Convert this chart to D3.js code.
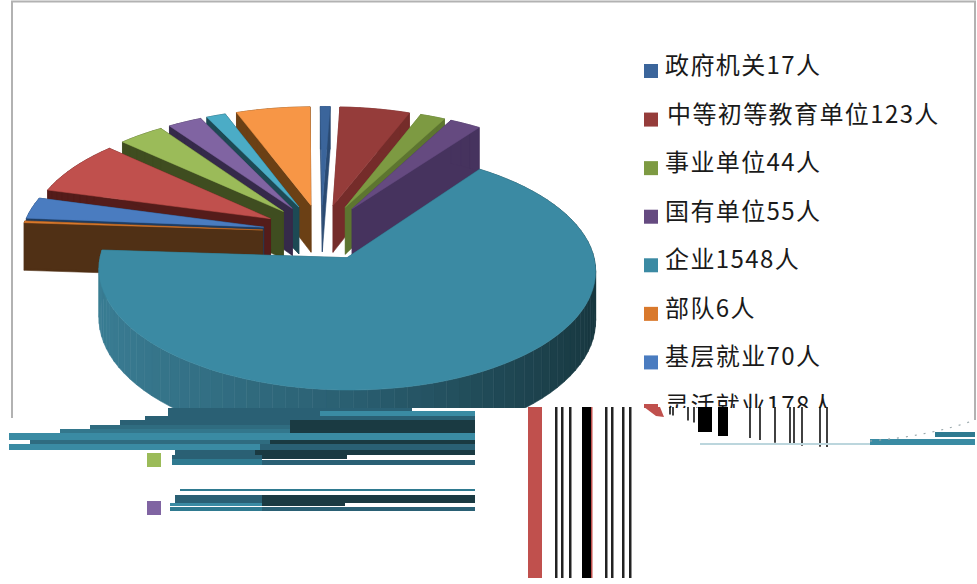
<!DOCTYPE html>
<html>
<head>
<meta charset="utf-8">
<script src="https://cdn.jsdelivr.net/npm/d3@7"></script>
<style>
  html, body { margin: 0; background: #fff; }
  svg { display: block; }
  text { font-family: "Noto Sans CJK SC", sans-serif; }
</style>
</head>
<body>
<svg id="chart" width="977" height="584"></svg>
<script>
// last four names cannot be read in the picture, their values are estimated
const categories = ["政府机关", "中等初等教育单位", "事业单位", "国有单位", "企业", "部队", "基层就业", "灵活就业", "", "", "", ""];
const values = [17, 123, 44, 55, 1548, 6, 70, 178, 81, 60, 34, 130];
const unit = "人";
const topColors = ["#3b659b", "#953c3a", "#7d9a42", "#654a80", "#3b8aa3", "#d9792c", "#4a7cc0", "#c0504d", "#9bbb59", "#8064a2", "#4bacc6", "#f79646"];
const sideColors = ["#2a4a72", "#752c2a", "#5d7530", "#46335e", "#27606f", "#503015", "#1f3c60", "#541c1a", "#3f4d20", "#352a4a", "#1d4a55", "#6b4015"];

const W = 977, H = 584;
const svg = d3.select("#chart");

// pie geometry, fitted to the picture
const cx = 321.5, cy = 232, R = 241.5, explode = 59, depth = 48;
const tilt = 0.47, camera = 2400;
const rotation = -0.5 * Math.PI / 180;

const project = (X, Y, z) => {
  const s = camera / (camera - Y);
  return [cx + X * s, cy + Y * tilt * s + z * s];
};

const arcs = d3.pie().sort(null).startAngle(rotation).endAngle(rotation + 2 * Math.PI)(values);

const polygon = d3.line();
const defs = svg.append("defs");
defs.append("clipPath").attr("id", "pie-clip")
  .append("rect").attr("x", 0).attr("y", 0).attr("width", W).attr("height", 408);

// frame
svg.append("path")
  .attr("d", "M12,418V1.5H975V420")
  .attr("fill", "none").attr("stroke", "#b2b2b2").attr("stroke-width", 2);

const pieG = svg.append("g").attr("clip-path", "url(#pie-clip)");
const wallShade = d3.scaleLinear().domain([-1, 0, 1]).range(["#3a7d94", "#2a5f71", "#17363e"]);

const slices = arcs.map((d, i) => {
  const mid = (d.startAngle + d.endAngle) / 2;
  const ox = explode * Math.sin(mid), oy = -explode * Math.cos(mid);
  const rim = d3.range(0, 1.0001, 1 / Math.max(2, Math.ceil((d.endAngle - d.startAngle) / 0.05)))
    .map((t) => d.startAngle + t * (d.endAngle - d.startAngle));
  const at = (a, r, z) => project(ox + r * Math.sin(a), oy - r * Math.cos(a), z);
  return { i, d, rim, at, order: oy - (R / 2) * Math.cos(mid) };
}).sort((a, b) => a.order - b.order);

slices.forEach(({ i, d, rim, at }) => {
  const g = pieG.append("g").attr("class", "slice");
  const wall = (pts, c) =>
    g.append("path").attr("d", polygon(pts) + "Z").attr("fill", c).attr("stroke", c).attr("stroke-width", 0.6);
  wall([at(0, 0, 0), at(d.startAngle, R, 0), at(d.startAngle, R, depth), at(0, 0, depth)], sideColors[i]);
  wall([at(0, 0, 0), at(d.endAngle, R, 0), at(d.endAngle, R, depth), at(0, 0, depth)], sideColors[i]);
  d3.pairs(rim).forEach(([a, b]) => {
    const c = i === 4 ? wallShade(Math.sin((a + b) / 2)) : sideColors[i];
    wall([at(a, R, 0), at(b, R, 0), at(b, R, depth), at(a, R, depth)], c);
  });
  const top = [at(0, 0, 0)].concat(rim.map((a) => at(a, R, 0)));
  g.append("path").attr("d", polygon(top) + "Z").attr("fill", topColors[i]).attr("stroke", topColors[i]).attr("stroke-width", 0.5);
});

// legend, the picture only shows the first eight rows here
const legendRows = d3.range(8);
const rowY = d3.scaleLinear().domain([0, 7]).range([65, 405]);

const legendG = svg.append("g").attr("clip-path", "url(#pie-clip)");
const row = legendG.selectAll("g").data(legendRows).join("g")
  .attr("transform", (i) => `translate(0,${rowY(i)})`);
row.append("rect")
  .attr("x", 644).attr("y", -1).attr("width", 14).attr("height", 14)
  .attr("fill", (i) => topColors[i]);
row.append("text")
  .attr("x", (i) => (i === 1 ? 667 : 665))
  .attr("y", 9)
  .attr("font-size", 24)
  .attr("letter-spacing", 1.4)
  .attr("fill", "#1a1a1a")
  .text((i) => categories[i] + values[i] + unit);

// torn lower part of the scan: stretched columns below the clean area
const tearX = [670, 673, 688, 694, 700, 704, 708, 720, 724, 750, 760, 775, 790, 794, 802, 820, 827];
const tearEnd = (x) => 404 + 43 * Math.sin(Math.min(1, (x - 640) / 190) * Math.PI / 2);
svg.append("g").selectAll("line").data(tearX).join("line")
  .attr("x1", (x) => x).attr("x2", (x) => x)
  .attr("y1", 407).attr("y2", tearEnd)
  .attr("stroke", "#111").attr("stroke-width", 1.6);
svg.append("rect").attr("x", 698).attr("y", 407).attr("width", 14).attr("height", 25).attr("fill", "#000");
svg.append("rect").attr("x", 718).attr("y", 407).attr("width", 10).attr("height", 29).attr("fill", "#000");
svg.append("path").attr("d", "M644,407L660,407L664,417L656,416Z").attr("fill", topColors[7]);

const tearBars = [
  [528, 14, "#c0504d"], [555, 2.5, "#222"], [561, 2.5, "#222"], [569, 2.5, "#222"], [582, 9, "#000"],
  [591, 1.5, "#c0504d"], [605, 2.5, "#222"], [611, 2.5, "#222"], [622, 2.5, "#222"], [629, 2.5, "#222"]
];
svg.append("g").selectAll("rect").data(tearBars).join("rect")
  .attr("x", (d) => d[0]).attr("y", 407).attr("width", (d) => d[1]).attr("height", 171).attr("fill", (d) => d[2]);

const bright = "#3a8ba3", mid = "#2a6074", dark = "#1a3a42";
const tearBands = [
  [168, 412, 408, 412, mid], [168, 320, 412, 416, mid], [320, 475, 411, 416, bright],
  [145, 475, 416, 420, mid], [120, 290, 420, 425, mid], [290, 475, 420, 433, dark],
  [90, 290, 425, 429, "#2f6c80"], [60, 290, 429, 433, "#33778c"],
  [9, 475, 433, 440, bright], [30, 270, 440, 444, "#2f6c80"], [270, 475, 440, 444, dark],
  [9, 260, 444, 450, bright], [260, 475, 444, 450, mid],
  [175, 255, 450, 455, mid], [255, 475, 450, 455, dark],
  [172, 262, 455, 459, mid], [262, 347, 455, 459, dark],
  [172, 262, 459, 465, "#2f7a90"], [262, 475, 460, 465, mid],
  [180, 475, 489, 491, "#2f7a90"], [175, 262, 495, 503, mid], [262, 475, 495, 503, dark],
  [170, 262, 503, 506, bright], [262, 345, 503, 506, dark], [170, 262, 507, 511, "#2f7a90"], [262, 475, 507, 511, mid],
  [870, 975, 439, 445, bright], [935, 975, 432, 437, "#2f7a90"], [700, 870, 443, 445, "#bcd6dd"]
];
svg.append("g").selectAll("rect").data(tearBands).join("rect")
  .attr("x", (d) => d[0]).attr("y", (d) => d[2])
  .attr("width", (d) => d[1] - d[0]).attr("height", (d) => d[3] - d[2])
  .attr("fill", (d) => d[4]);

// dotted remains of the frame along the tear on the right
svg.append("path")
  .attr("d", "M870,441Q930,436 975,420")
  .attr("fill", "none").attr("stroke", "#9aa8ac").attr("stroke-width", 1.2).attr("stroke-dasharray", "2 7");

// two legend swatches that slid down with the tear
svg.append("rect").attr("x", 147).attr("y", 453).attr("width", 14).attr("height", 14).attr("fill", topColors[8]);
svg.append("rect").attr("x", 147).attr("y", 501).attr("width", 14).attr("height", 14).attr("fill", topColors[9]);
</script>
</body>
</html>
